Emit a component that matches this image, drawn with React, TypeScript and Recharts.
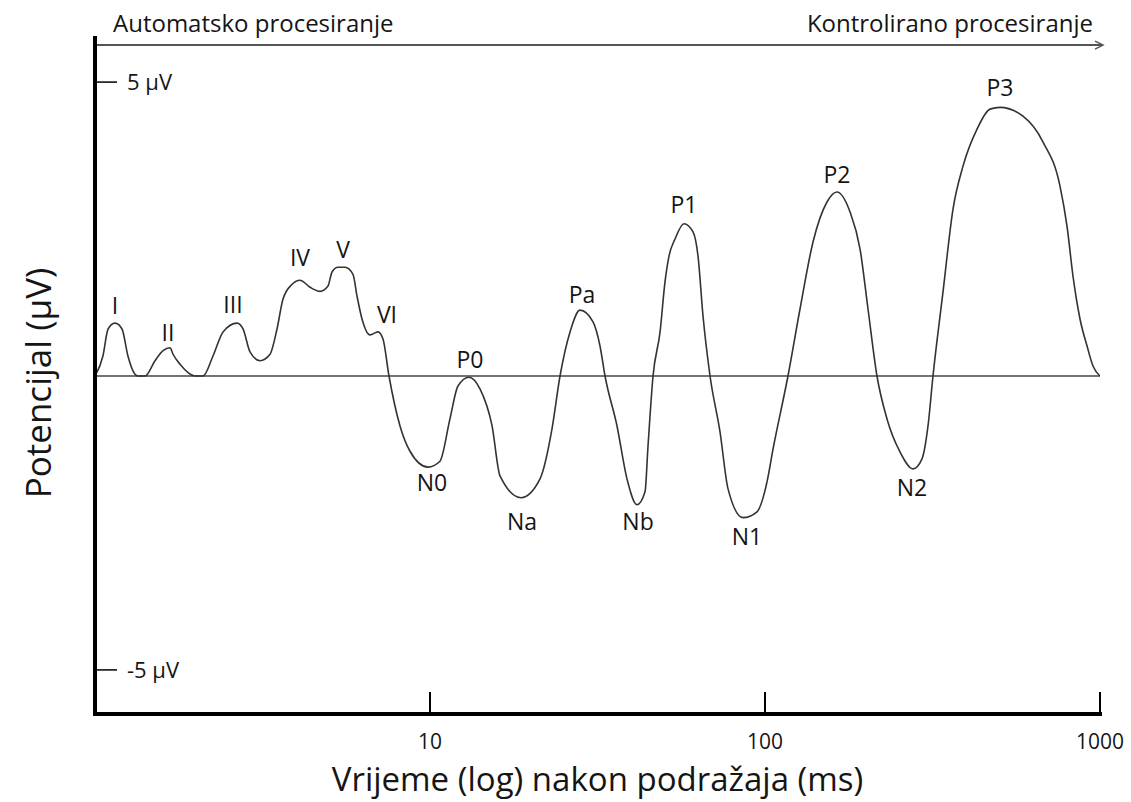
import { ComposedChart, Line, Scatter, XAxis, YAxis, ReferenceLine, LabelList } from "recharts";

const FONT = "'Open Sans', sans-serif";
const INK = "#151515";

// waveform, time in ms (log axis) and potential in µV
const time = [
  1, 1.056, 1.094, 1.147, 1.204, 1.254, 1.316, 1.344, 1.41, 1.511, 1.596, 1.675, 1.71, 1.794,
  1.988, 2.101, 2.25, 2.411, 2.654, 2.766, 2.902, 3.109, 3.33, 3.494, 3.641, 3.874, 4.092,
  4.384, 4.696, 4.961, 5.099, 5.313, 5.576, 5.89, 6.055, 6.267, 6.622, 6.995, 7.239, 7.544,
  8.137, 8.716, 9.863, 10.71, 11.47, 12.12, 13.08, 14.1, 15.32, 16.18, 18.69, 21.3, 23.13,
  24.44, 26.18, 28.04, 30.66, 32.17, 33.3, 36.16, 38.73, 41.49, 43.84, 44.75, 46.32, 48.61,
  50.29, 51.69, 53.87, 57.31, 60.97, 63.1, 65.31, 68.54, 73.4, 77.56, 85.97, 94.65, 101.4, 105.7,
  117.1, 127.2, 139.1, 153.1, 164, 179.4, 192.2, 203, 215.9, 231.3, 252.9, 276.6, 294.2,
  306.6, 317.3, 339.9, 364.1, 390, 429.5, 469.6, 502.9, 588.9, 676, 759.6, 797.1, 830.6,
  871.6, 914.8, 953, 1000,
];
const potential = [
  0, 0.34, 0.8, 0.9, 0.8, 0.34, 0.03, 0, 0, 0.26, 0.43, 0.48, 0.37, 0.2,
  0, 0, 0.34, 0.75, 0.9, 0.8, 0.41, 0.26, 0.37, 0.8, 1.31, 1.56, 1.63,
  1.51, 1.44, 1.53, 1.77, 1.85, 1.85, 1.73, 1.36, 0.97, 0.7, 0.75, 0.63, 0,
  -0.85, -1.28, -1.55, -1.45, -0.73, -0.17, -0.02, -0.22, -0.85, -1.7, -2.07, -1.75, -0.9,
  0, 0.75, 1.12, 0.92, 0.51, 0, -0.85, -1.75, -2.19, -1.97, -1.19, 0, 0.75,
  1.6, 2.04, 2.33, 2.59, 2.45, 2.04, 1.02, 0, -0.95, -1.92, -2.41, -2.31, -1.8, -1.24,
  0, 1.14, 2.28, 2.96, 3.13, 2.79, 2.16, 1.14, 0, -0.73, -1.29, -1.58, -1.41,
  -0.85, 0, 1.43, 2.84, 3.57, 4.2, 4.54, 4.57, 4.42, 3.98, 3.23, 2.55, 1.7,
  0.97, 0.51, 0.17, 0,
];

// component names and where their labels sit
const peakNames = ["I", "II", "III", "IV", "V", "VI", "N0", "P0", "Na", "Pa", "Nb", "P1", "N1", "P2", "N2", "P3"];
const peakTime = [1.147, 1.652, 2.582, 4.092, 5.499, 7.44, 10.14, 13.16, 18.82, 28.43, 41.78, 57.31, 88.37, 164, 274.7, 502.9];
const peakPotential = [1.19, 0.73, 1.21, 2.01, 2.14, 1.04, -1.82, 0.27, -2.48, 1.38, -2.48, 2.91, -2.74, 3.42, -1.9, 4.9];

const xTicks = [10, 100, 1000];
const yTicks = [-5, 5];
const arrowLevel = 5.63;

const waveData = time.map((t, i) => ({ t, v: potential[i] }));
const peakData = peakNames.map((name, i) => ({ name, t: peakTime[i], v: peakPotential[i] }));

const XTick = ({ x, y, payload }: any) => (
  <g>
    <line x1={x} y1={y} x2={x} y2={y - 22} stroke="#000" strokeWidth={2} />
    <text x={x} y={y + 35} textAnchor="middle" fontSize={21} fill={INK} fontFamily={FONT}>
      {payload.value}
    </text>
  </g>
);

const YTick = ({ x, y, payload }: any) => (
  <g>
    <line x1={x} y1={y} x2={x + 22} y2={y} stroke="#000" strokeWidth={1.5} />
    <text x={x + 32} y={y + 8} fontSize={22} fill={INK} fontFamily={FONT}>
      {`${payload.value} µV`}
    </text>
  </g>
);

const ArrowShape = (p: any) => (
  <g>
    <line x1={p.x1} y1={p.y1} x2={p.x2 + 2} y2={p.y2} stroke="#555" strokeWidth={2} />
    <polyline
      points={`${p.x2 - 5},${p.y2 - 4} ${p.x2 + 3},${p.y2} ${p.x2 - 5},${p.y2 + 4}`}
      fill="none"
      stroke="#555"
      strokeWidth={1.5}
    />
  </g>
);

const ArrowLabels = ({ viewBox }: any) => (
  <g fontFamily={FONT} fontSize={24} fill={INK}>
    <text x={viewBox.x + 18} y={viewBox.y - 13}>Automatsko procesiranje</text>
    <text x={viewBox.x + viewBox.width - 7} y={viewBox.y - 13} textAnchor="end">
      Kontrolirano procesiranje
    </text>
  </g>
);

const YTitle = ({ viewBox }: any) => (
  <text
    transform={`translate(${viewBox.x + 51}, ${viewBox.y + viewBox.height / 2 + 7}) rotate(-90)`}
    textAnchor="middle"
    fontSize={35}
    fill={INK}
    fontFamily={FONT}
  >
    Potencijal (µV)
  </text>
);

const XTitle = ({ viewBox }: any) => (
  <text
    x={viewBox.x + viewBox.width / 2}
    y={viewBox.y + 77}
    textAnchor="middle"
    fontSize={33}
    fill={INK}
    fontFamily={FONT}
  >
    Vrijeme (log) nakon podražaja (ms)
  </text>
);

export default function App() {
  return (
    <div style={{ position: "absolute", left: 0, top: 0, width: 1131, height: 802, background: "#fff" }}>
      <ComposedChart width={1131} height={802} margin={{ top: 38, right: 31, bottom: 0, left: 0 }}>
        <XAxis
          type="number"
          dataKey="t"
          scale="log"
          domain={[1, 1000]}
          ticks={xTicks}
          interval={0}
          allowDataOverflow
          height={88}
          tickSize={0}
          tickMargin={0}
          tickLine={false}
          tick={XTick}
          axisLine={{ stroke: "#000", strokeWidth: 4, strokeLinecap: "square" }}
          label={XTitle}
        />
        <YAxis
          type="number"
          dataKey="v"
          domain={[-5.75, 5.75]}
          ticks={yTicks}
          interval={0}
          allowDataOverflow
          width={95}
          tickSize={0}
          tickMargin={0}
          tickLine={false}
          tick={YTick}
          axisLine={{ stroke: "#000", strokeWidth: 4, strokeLinecap: "square" }}
          label={YTitle}
        />
        <ReferenceLine y={0} stroke="#444" strokeWidth={1.5} />
        <ReferenceLine y={arrowLevel} shape={ArrowShape} label={ArrowLabels} />
        <Line
          data={waveData}
          dataKey="v"
          type="monotone"
          stroke="#333"
          strokeWidth={1.6}
          dot={false}
          activeDot={false}
          isAnimationActive={false}
        />
        <Scatter data={peakData} dataKey="v" shape={() => <g />} isAnimationActive={false}>
          <LabelList dataKey="name" position="center" fontSize={23} fill={INK} fontFamily={FONT} />
        </Scatter>
      </ComposedChart>
    </div>
  );
}
